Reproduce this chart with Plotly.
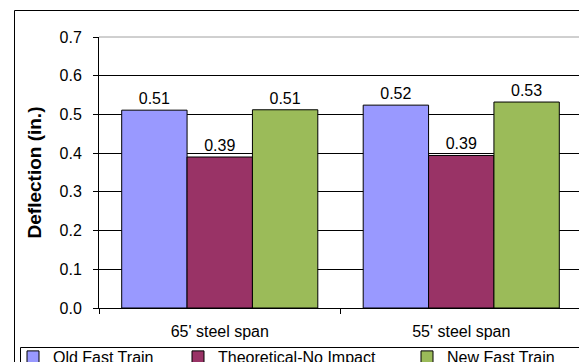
import plotly.graph_objects as go

categories = ["65' steel span", "55' steel span"]
series_names = ["Old Fast Train", "Theoretical-No Impact", "New Fast Train"]
old_fast = [0.511, 0.524]
theoretical = [0.390, 0.394]
new_fast = [0.512, 0.532]
colors = ["#9999FF", "#993366", "#9BBB59"]
y_ticks = [0.0, 0.1, 0.2, 0.3, 0.4, 0.5, 0.6, 0.7]

FONT = "Liberation Sans, Arial, sans-serif"

fig = go.Figure()
for i, (name, vals) in enumerate(zip(series_names, [old_fast, theoretical, new_fast])):
    fig.add_trace(go.Bar(
        x=categories, y=vals, name=name,
        marker=dict(color=colors[i], line=dict(color="#000000", width=1)),
        texttemplate="%{y:.2f}", textposition="outside",
        textfont=dict(family=FONT, size=16, color="#000"),
        cliponaxis=False,
        legend="legend" if i == 0 else f"legend{i+1}",
    ))

# page body has an 8px margin; the figure is sized to fit the window
OFF = 8
W, H = 587 - OFF, 362 - OFF
L, R, T, B = 99 - OFF, 5, 37 - OFF, 54
pw = W - L - R
ph = H - T - B

def px(x):  # window pixel -> paper x
    return (x - OFF - L) / pw

def py(y):  # window pixel -> paper y
    return (H - B - (y - OFF)) / ph

def cx(x):  # window pixel -> container x
    return (x - OFF) / W

def cy(y):  # window pixel -> container y
    return (H - (y - OFF)) / H

leg_common = dict(
    orientation="h", yanchor="middle", xanchor="left",
    xref="container", yref="container",
    font=dict(family=FONT, size=16, color="#000"),
    bgcolor="rgba(0,0,0,0)", borderwidth=0,
)

fig.update_layout(
    width=W, height=H,
    margin=dict(l=L, r=R, t=T, b=B, autoexpand=False),
    paper_bgcolor="white", plot_bgcolor="white",
    font=dict(family=FONT, size=16, color="#000"),
    barmode="group", bargap=0.188, bargroupgap=0,
    showlegend=True,
    legend=dict(x=cx(13), y=cy(357), **leg_common),
    legend2=dict(x=cx(178), y=cy(357), **leg_common),
    legend3=dict(x=cx(407), y=cy(357), **leg_common),
    xaxis=dict(
        showline=True, linecolor="#000", linewidth=1,
        ticks="outside", tickson="boundaries", ticklen=5, tickcolor="#000",
        tickfont=dict(family=FONT, size=16, color="#000"),
        ticklabelstandoff=9,
        showgrid=False, automargin=False,
    ),
    yaxis=dict(
        range=[0, 0.7], tickvals=y_ticks, tickformat=".1f",
        showline=True, linecolor="#000", linewidth=1,
        ticks="outside", ticklen=5, tickcolor="#000",
        tickfont=dict(family=FONT, size=16, color="#000"),
        ticklabelstandoff=8,
        showgrid=True, gridcolor="#000", gridwidth=1,
        zeroline=False, automargin=False,
        title=dict(text="<b>Deflection (in.)</b>", standoff=12,
                   font=dict(family=FONT, size=19, color="#000")),
    ),
    shapes=[
        # plot area border (gray): top and right edges
        dict(type="line", xref="paper", yref="paper", x0=0, x1=1, y0=1, y1=1,
             line=dict(color="#A0A0A0", width=1), layer="above"),
        dict(type="line", xref="paper", yref="paper", x0=1, x1=1, y0=0, y1=1,
             line=dict(color="#A0A0A0", width=1), layer="above"),
        # outer chart border
        dict(type="rect", xref="paper", yref="paper", x0=px(14.5), x1=px(620),
             y0=py(420), y1=py(10.5), line=dict(color="#000", width=1)),
        # legend box
        dict(type="rect", xref="paper", yref="paper", x0=px(20.5), x1=px(583),
             y0=py(420), y1=py(347.5), line=dict(color="#000", width=1)),
    ],
)

fig.write_html("out.html")
